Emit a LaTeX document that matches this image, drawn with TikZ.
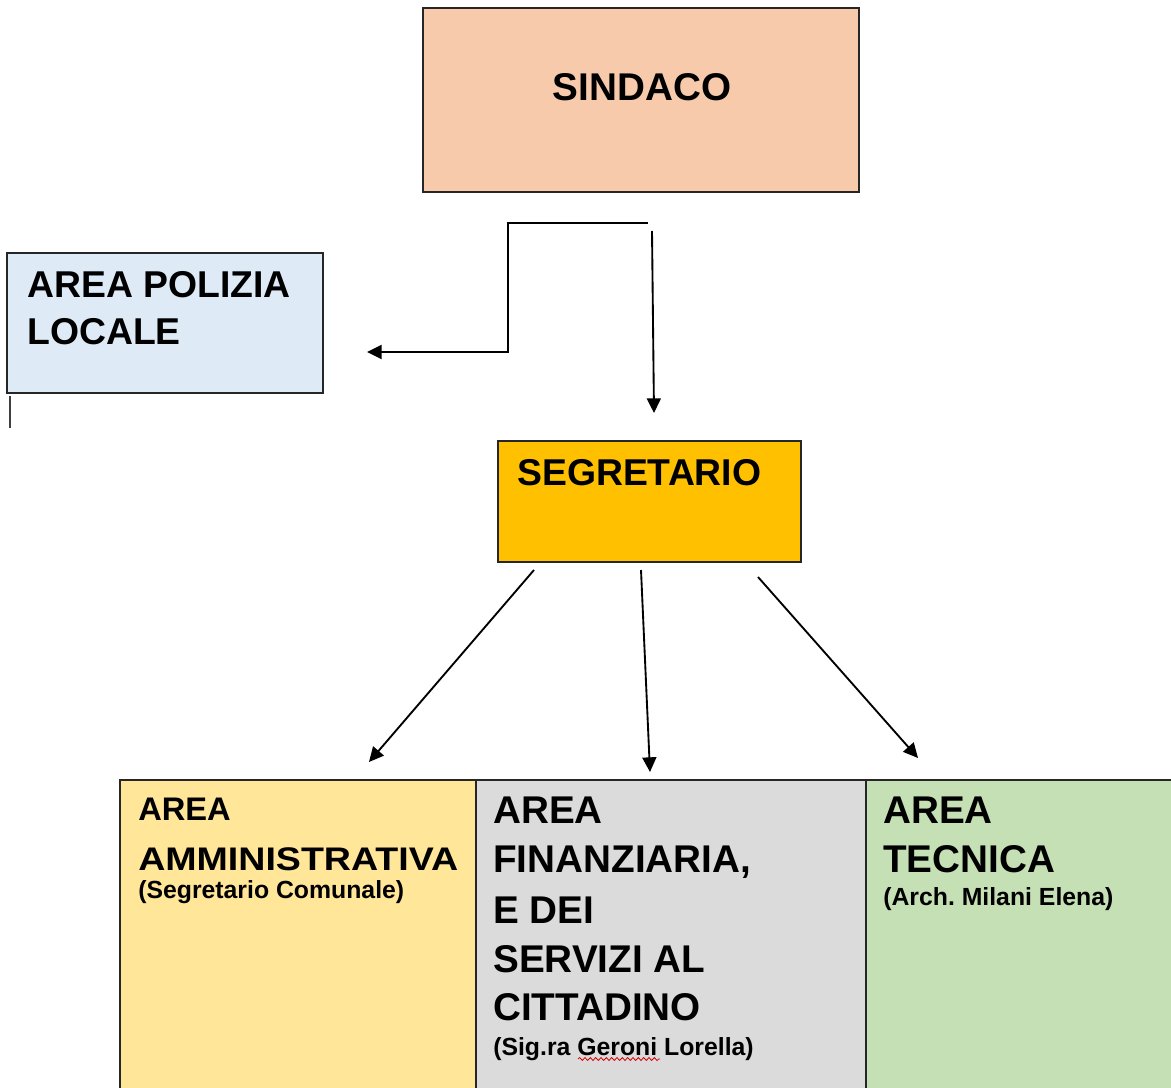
\documentclass[tikz,border=0pt]{standalone}
\usepackage{graphicx}
\usepackage{fontspec}
\setmainfont{Liberation Sans}
\usetikzlibrary{arrows.meta,decorations.pathmorphing}
\definecolor{cSind}{HTML}{F7CAAC}
\definecolor{cPol}{HTML}{DEEBF7}
\definecolor{cSeg}{HTML}{FFC000}
\definecolor{cAmm}{HTML}{FFE699}
\definecolor{cFin}{HTML}{DBDBDB}
\definecolor{cTec}{HTML}{C5E0B4}
\definecolor{cLine}{HTML}{262626}
\tikzset{
  box/.style={draw=cLine, line width=1.4pt, rectangle, inner sep=0pt},
  big/.style={anchor=base west, inner sep=0pt, font=\fontsize{29pt}{35pt}\selectfont\bfseries},
  mid/.style={anchor=base west, inner sep=0pt, font=\fontsize{24.5pt}{30pt}\selectfont\bfseries},
  small/.style={anchor=base west, inner sep=0pt, font=\fontsize{18.6pt}{22pt}\selectfont\bfseries},
  conn/.style={draw=black, line width=1.4pt, -{Triangle[length=11pt,width=10.5pt]}},
}
\begin{document}
\begin{tikzpicture}[x=0.75pt, y=-0.75pt]
\useasboundingbox (0,0) rectangle (1171,1088);
\fill[white] (0,0) rectangle (1171,1088);
\clip (0,0) rectangle (1171,1088);

% boxes
\node[box, fill=cSind, minimum width=327pt, minimum height=138pt] (sindaco) at (641,100) {};
\node[box, fill=cPol, minimum width=237pt, minimum height=105pt] (polizia) at (165,323) {};
\node[box, fill=cSeg, minimum width=227.25pt, minimum height=90.75pt] (segretario) at (649.5,501.5) {};
\node[box, fill=cAmm, minimum width=267pt, minimum height=255pt] (amm) at (298,950) {};
\node[box, fill=cFin, minimum width=292.5pt, minimum height=255pt] (fin) at (671,950) {};
\node[box, fill=cTec, minimum width=255pt, minimum height=255pt] (tec) at (1036,950) {};

% texts
\node[anchor=base, inner sep=0pt, font=\fontsize{29pt}{35pt}\selectfont\bfseries] (tSind) at (642,100) {SINDACO};
\node[big, font=\fontsize{28pt}{34pt}\selectfont\bfseries] (tPol1) at (27,297) {AREA POLIZIA};
\node[big, font=\fontsize{28pt}{34pt}\selectfont\bfseries] (tPol2) at (27,344) {LOCALE};
\node[big, font=\fontsize{28pt}{34pt}\selectfont\bfseries] (tSeg) at (517,485) {SEGRETARIO};

\node[mid] (tAmm1) at (138,820) {AREA};
\node[mid] (tAmm2) at (138,870) {\scalebox{1.15}[1]{AMMINISTRATIVA}};
\node[small] (tAmm3) at (138,898) {(Segretario Comunale)};

\node[big] (tFin1) at (493,823) {AREA};
\node[big] (tFin2) at (493,872) {FINANZIARIA,};
\node[big] (tFin3) at (493,923) {E DEI};
\node[big] (tFin4) at (493,972) {SERVIZI AL};
\node[big] (tFin5) at (493,1020) {CITTADINO};
\node[small] (tFin6) at (493,1055) {(Sig.ra Geroni Lorella)};
\draw[red!85!black, line width=0.6pt, decorate, decoration={snake, amplitude=1.1pt, segment length=4pt}] (578,1059) -- (660,1059);

\node[big] (tTec1) at (883,823) {AREA};
\node[big] (tTec2) at (883,872) {TECNICA};
\node[small] (tTec3) at (883,905) {(Arch.\ Milani Elena)};

% small vertical mark
\coordinate (m1) at (10,396);
\coordinate (m2) at (10,428);
\draw[line width=1pt, black!75] (m1) -- (m2);

% connectors
\coordinate (p0) at (648,223);
\coordinate (p1) at (508,223);
\coordinate (p2) at (508,352);
\coordinate (p3) at (367,352);
\draw[conn] (p0) -- (p1) -- (p2) -- (p3);

\coordinate (s0) at (652,231);
\coordinate (s1) at (654,413);
\draw[conn] (s0) -- (s1);

\coordinate (a0) at (534,570);
\coordinate (a1) at (369,762);
\draw[conn] (a0) -- (a1);
\coordinate (b0) at (641,570);
\coordinate (b1) at (650,772);
\draw[conn] (b0) -- (b1);
\coordinate (c0) at (758,577);
\coordinate (c1) at (918,758);
\draw[conn] (c0) -- (c1);
\end{tikzpicture}
\end{document}
